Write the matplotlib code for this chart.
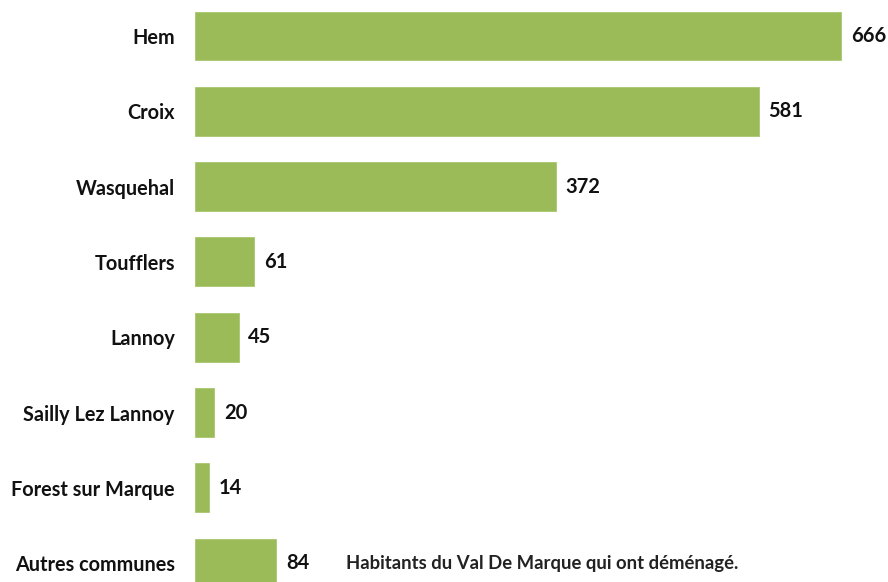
import matplotlib.pyplot as plt

communes = ["Hem", "Croix", "Wasquehal", "Toufflers", "Lannoy",
            "Sailly Lez Lannoy", "Forest sur Marque", "Autres communes"]
habitants = [666, 581, 372, 61, 45, 20, 14, 84]
note = "Habitants du Val De Marque qui ont déménagé."

plt.rcParams['font.family'] = ['Lato', 'DejaVu Sans']
plt.rcParams['font.weight'] = 'bold'

fig = plt.figure(figsize=(8.88, 5.82), dpi=100)
ax = fig.add_axes([195/888, 0, 693/888, 1])

pos = list(range(len(communes)))
bars = ax.barh(pos, habitants, height=0.65, color='#9bbb59',
               edgecolor='#a9c66d', linewidth=0.6)

for p, v in zip(pos, habitants):
    ax.annotate(str(v), (v, p), xytext=(7, 0), textcoords='offset points',
                va='center', ha='left', fontsize=14.5, fontweight='bold',
                color='#111111')

ax.set_xlim(0, 714.5)
ax.set_ylim(7.25, -0.478)
ax.set_yticks(pos)
ax.set_yticklabels(communes, fontsize=14.3, fontweight='bold', color='#111111')
ax.tick_params(axis='y', length=0, pad=14.5)
ax.set_xticks([])
for s in ax.spines.values():
    s.set_visible(False)

fig.text(346/888, 1 - 563/582, note, fontsize=13.3, fontweight='bold',
         color='#222222', va='center', ha='left')

fig.savefig("out.png", dpi=100)
